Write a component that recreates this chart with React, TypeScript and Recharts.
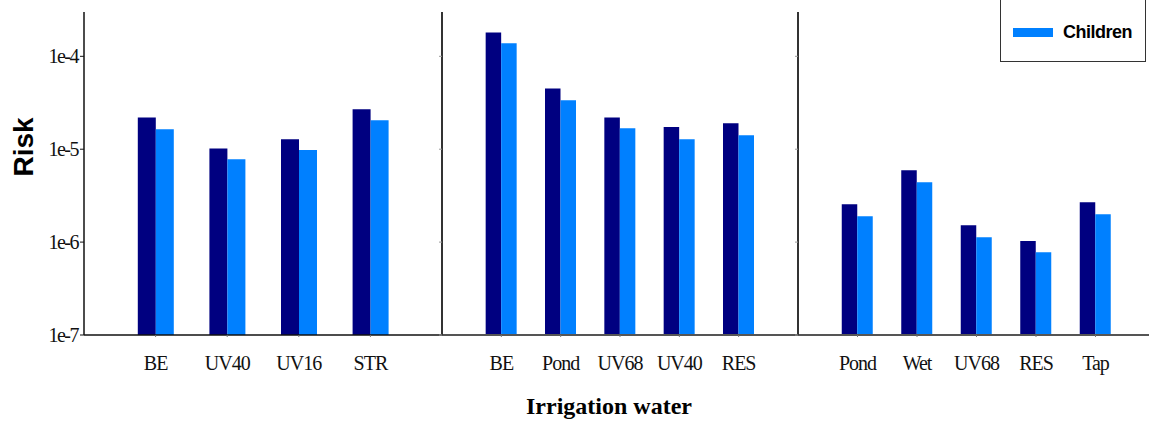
import { BarChart, Bar, XAxis, YAxis } from "recharts";

// sites per irrigation group, left to right
const groupOneSites = ["BE", "UV40", "UV16", "STR"];
const groupOneAdults = [2.2e-5, 1.02e-5, 1.28e-5, 2.7e-5];
const groupOneChildren = [1.64e-5, 7.8e-6, 9.8e-6, 2.05e-5];

const groupTwoSites = ["BE", "Pond", "UV68", "UV40", "RES"];
const groupTwoAdults = [1.81e-4, 4.5e-5, 2.2e-5, 1.73e-5, 1.9e-5];
const groupTwoChildren = [1.38e-4, 3.37e-5, 1.68e-5, 1.28e-5, 1.41e-5];

const groupThreeSites = ["Pond", "Wet", "UV68", "RES", "Tap"];
const groupThreeAdults = [2.56e-6, 5.95e-6, 1.52e-6, 1.03e-6, 2.69e-6];
const groupThreeChildren = [1.9e-6, 4.42e-6, 1.13e-6, 7.8e-7, 2.0e-6];

const seriesNames = ["Adults", "Children"];
const riskTicks = [1e-7, 1e-6, 1e-5, 1e-4];
const riskTickLabels = ["1e-7", "1e-6", "1e-5", "1e-4"];
const riskDomain = [1e-7, 3e-4];

const ADULT_COLOR = "#000080";
const CHILD_COLOR = "#0080ff";
const HEIGHT = 421;
const TOP = 12;
const BOTTOM = 86;

function buildRows(sites: string[], adults: number[], children: number[]) {
  return sites.map((site, i) => ({ site, adults: adults[i], children: children[i] }));
}

function Panel({
  sites,
  adults,
  children,
  width,
  first,
  barSize,
  yWidth,
}: {
  sites: string[];
  adults: number[];
  children: number[];
  width: number;
  first: boolean;
  barSize: number;
  yWidth: number;
}) {
  const data = buildRows(sites, adults, children);
  const plotWidth = width - yWidth;
  const pad = plotWidth / ((sites.length + 1) * 2);

  return (
    <BarChart
      width={width}
      height={HEIGHT}
      data={data}
      margin={{ top: TOP, right: 0, bottom: 0, left: 0 }}
      barGap={0}
      barCategoryGap={0}
    >
      <XAxis
        dataKey="site"
        height={BOTTOM}
        padding={{ left: pad, right: pad }}
        axisLine={{ stroke: first ? "#111" : "#555", strokeWidth: first ? 1.5 : 2 }}
        tickLine={{ stroke: "#777" }}
        tickSize={2}
        tickMargin={19}
        interval={0}
        tick={{
          fill: "#111",
          fontSize: 20,
          fontFamily: "Liberation Serif",
          letterSpacing: -1,
        }}
      />
      <YAxis
        scale="log"
        domain={riskDomain}
        ticks={riskTicks}
        allowDataOverflow
        width={yWidth}
        tickSize={first ? 4 : 3}
        tickMargin={2}
        axisLine={{ stroke: first ? "#111" : "#333", strokeWidth: first ? 1.5 : 2 }}
        tickLine={{ stroke: first ? "#111" : "#999" }}
        tickFormatter={(v: number) =>
          first ? riskTickLabels[riskTicks.indexOf(v)] ?? "" : ""
        }
        tick={{
          fill: "#111",
          fontSize: 20,
          fontFamily: "Liberation Serif",
          letterSpacing: -1.5,
        }}
      />
      <Bar dataKey="adults" name={seriesNames[0]} fill={ADULT_COLOR} barSize={barSize} isAnimationActive={false} />
      <Bar dataKey="children" name={seriesNames[1]} fill={CHILD_COLOR} barSize={barSize} isAnimationActive={false} />
    </BarChart>
  );
}

export default function App() {
  return (
    <div
      style={{
        position: "absolute",
        left: 0,
        top: 0,
        width: 1149,
        height: HEIGHT,
        overflow: "hidden",
        background: "#fff",
      }}
    >
      <div style={{ position: "absolute", left: 0, top: 0 }}>
        <Panel sites={groupOneSites} adults={groupOneAdults} children={groupOneChildren} width={442} yWidth={84} first barSize={18} />
      </div>
      <div style={{ position: "absolute", left: 436, top: 0 }}>
        <Panel sites={groupTwoSites} adults={groupTwoAdults} children={groupTwoChildren} width={362} yWidth={6} first={false} barSize={15.5} />
      </div>
      <div style={{ position: "absolute", left: 792, top: 0 }}>
        <Panel sites={groupThreeSites} adults={groupThreeAdults} children={groupThreeChildren} width={363} yWidth={6} first={false} barSize={15.5} />
      </div>

      <div
        style={{
          position: "absolute",
          left: 24,
          top: 147,
          transform: "translate(-50%, -50%) rotate(-90deg)",
          fontFamily: "Liberation Sans",
          fontWeight: "bold",
          fontSize: 28,
          lineHeight: 1,
          whiteSpace: "nowrap",
          color: "#000",
        }}
      >
        Risk
      </div>
      <div
        style={{
          position: "absolute",
          left: 609,
          top: 406,
          transform: "translate(-50%, -50%)",
          fontFamily: "Liberation Serif",
          fontWeight: "bold",
          fontSize: 24,
          lineHeight: 1,
          whiteSpace: "nowrap",
          color: "#000",
        }}
      >
        Irrigation water
      </div>

      {/* legend box: its top (Adults entry) is cropped away in the reference */}
      <div
        style={{
          position: "absolute",
          left: 1000,
          top: -10,
          width: 146,
          height: 72,
          boxSizing: "border-box",
          border: "1.5px solid #333",
          background: "#fff",
        }}
      >
        <div style={{ display: "flex", alignItems: "center", height: 41, marginTop: 21 }}>
          <div style={{ width: 40, height: 9, marginLeft: 12, background: CHILD_COLOR }} />
          <span
            style={{
              marginLeft: 10,
              fontFamily: "Liberation Sans",
              fontWeight: "bold",
              fontSize: 18,
              letterSpacing: -0.5,
              color: "#000",
            }}
          >
            {seriesNames[1]}
          </span>
        </div>
      </div>
    </div>
  );
}
